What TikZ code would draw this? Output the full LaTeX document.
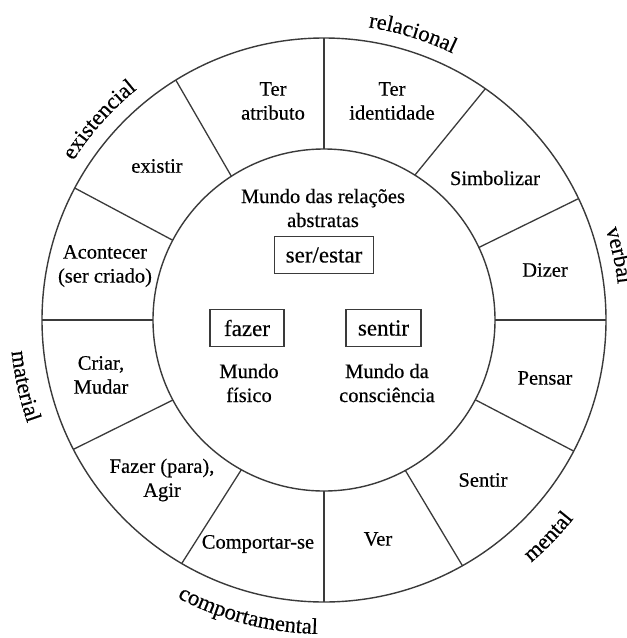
\documentclass[tikz,border=0pt]{standalone}
\usepackage{fontspec}
\setmainfont{Liberation Serif}[RawFeature={embolden=0.4}]
\usetikzlibrary{decorations.text}
\definecolor{ink}{HTML}{3A3A3A}
\begin{document}
\begin{tikzpicture}[x=1pt,y=1pt,
  ring/.style={draw=ink, line width=1.4pt},
  spoke/.style={draw=ink, line width=1.3pt},
  sector/.style={font=\fontsize{20.5}{24}\selectfont, align=center, inner sep=0pt},
  keybox/.style={draw=ink, line width=1.3pt, font=\fontsize{23}{27}\selectfont,
    minimum height=37pt, inner sep=0pt},
  arclabel/.style={decorate, decoration={text along path, text align=center,
    text={|\fontsize{22.5}{26}\selectfont|#1}}},
]
\useasboundingbox (0,0) rectangle (627,-638);
\coordinate (C) at (324,-320);

% the two rings
\draw[ring] (C) circle[radius=282];
\draw[ring] (C) circle[radius=171];

% spokes dividing the outer ring (inner angle / outer angle)
\foreach \a/\b [count=\i] in {0/0, 25.1/25.5, 57.9/55.1, 90/90, 122.8/121.7,
    152.2/152.1, 180/180, 207.9/207.3, 241.1/239.7, 270/270, 298.4/299.4, 332.2/332.3} {
  \coordinate (in\i) at ([shift={(\a:171)}]C);
  \coordinate (out\i) at ([shift={(\b:282)}]C);
  \draw[spoke] (in\i) -- (out\i);
}

% process types in the outer ring
\node[sector] (tatr) at (273,-101) {Ter\\atributo};
\node[sector] (tide) at (392,-101) {Ter\\identidade};
\node[sector] (exis) at (157,-166) {existir};
\node[sector] (simb) at (495,-178) {Simbolizar};
\node[sector] (acon) at (105,-266) {Acontecer\\(ser criado)};
\node[sector] (dize) at (545,-270) {Dizer};
\node[sector] (cria) at (101,-375) {Criar,\\Mudar};
\node[sector] (pens) at (545,-378) {Pensar};
\node[sector] (faze) at (162,-480) {Fazer (para),\\Agir};
\node[sector] (sent) at (483,-480) {Sentir};
\node[sector] (comp) at (258,-544) {Comportar-se};
\node[sector] (verr) at (378,-539) {Ver};

% inner circle
\node[sector] (abst) at (323,-208) {Mundo das relações\\abstratas};
\node[keybox, minimum width=99pt] (ser) at (324,-255) {ser/estar};
\node[keybox, minimum width=74pt] (faz) at (247,-328) {fazer};
\node[keybox, minimum width=75pt] (sen) at (383.5,-328) {sentir};
\node[sector] (fisi) at (249,-383) {Mundo\\físico};
\node[sector] (cons) at (387,-383) {Mundo da\\consciência};

% category names around the ring
\path[arclabel=existencial] ([shift={(178.3:297)}]C) arc[start angle=178.3, end angle=98.3, radius=297];
\path[arclabel=relacional] ([shift={(112.8:296)}]C) arc[start angle=112.8, end angle=32.8, radius=296];
\path[arclabel=verbal] ([shift={(52.4:296)}]C) arc[start angle=52.4, end angle=-27.6, radius=296];
\path[arclabel=mental] ([shift={(276:319)}]C) arc[start angle=276, end angle=356, radius=319];
\path[arclabel=comportamental] ([shift={(215.5:314)}]C) arc[start angle=215.5, end angle=295.5, radius=314];
\path[arclabel=material] ([shift={(152.5:314)}]C) arc[start angle=152.5, end angle=232.5, radius=314];
\end{tikzpicture}
\end{document}
